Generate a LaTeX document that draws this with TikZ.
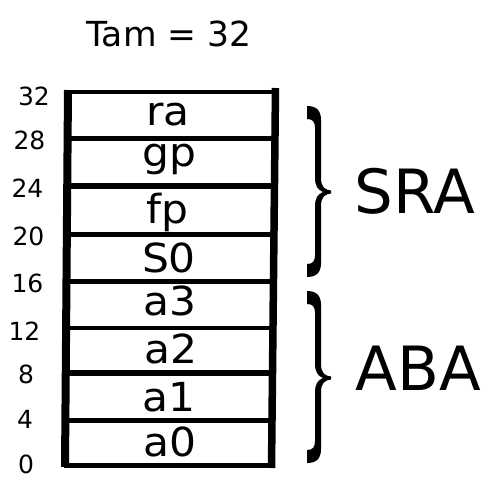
\documentclass[tikz,border=0pt]{standalone}
\usepackage{fontspec}
\setmainfont{DejaVu Sans}
\newcommand\mybrace[3]{%
  \fill (307,#1) .. controls (316,#1) and (321,#1+4) .. (321,#1+14)
   -- (321,#2-14) .. controls (321,#2-5) and (325,#2-2) .. (331,#2-1.5)
   -- (331,#2+1.5) .. controls (325,#2+2) and (321,#2+5) .. (321,#2+14)
   -- (321,#3-14) .. controls (321,#3-4) and (316,#3) .. (307,#3)
   -- (307,#3-13) .. controls (313,#3-13) and (315,#3-16) .. (315,#3-22)
   -- (315,#2+14) .. controls (315,#2+6) and (318,#2+2) .. (323,#2)
   .. controls (318,#2-2) and (315,#2-6) .. (315,#2-14)
   -- (315,#1+22) .. controls (315,#1+16) and (313,#1+13) .. (307,#1+13) -- cycle;}
\begin{document}
\begin{tikzpicture}[x=1pt,y=-1pt,
  cell/.style={anchor=base,inner sep=0pt,xscale=1.06,font=\fontsize{40}{40}\selectfont},
  addr/.style={anchor=base,inner sep=0pt,font=\fontsize{25}{25}\selectfont},
  big/.style={anchor=base,inner sep=0pt,font=\fontsize{61}{61}\selectfont},
  ttl/.style={anchor=base,inner sep=0pt,font=\fontsize{34.5}{34.5}\selectfont}]
\useasboundingbox[fill=white] (0,0) rectangle (488,488);
% title
\node[ttl] (title) at (169,46) {Tam = 32};
% horizontal lines
\draw[line width=4pt] (66,92) -- (274,92);
\draw[line width=5pt] (66,138.5) -- (274,138.5);
\draw[line width=5.5pt] (66,186) -- (273,186);
\draw[line width=5pt] (66,234.5) -- (273,234.5);
\draw[line width=4.5pt] (66,281.5) -- (273,281.5);
\draw[line width=4pt] (66,328) -- (273,328);
\draw[line width=5.5pt] (66,373) -- (272,373);
\draw[line width=5pt] (66,420.5) -- (272,420.5);
\draw[line width=5pt] (64,465.5) -- (272,465.5);
% verticals
\draw[line width=8pt] (68,90) -- (65,467);
\draw[line width=7.5pt] (275.5,88) -- (271.5,468);
% cell labels
\node[cell] (ra) at (168,125) {ra};
\node[cell] (gp) at (169,166) {gp};
\node[cell] (fp) at (167,223) {fp};
\node[cell] (s0) at (169,272) {S0};
\node[cell] (a3) at (170,315) {a3};
\node[cell] (a2) at (171,363) {a2};
\node[cell] (a1) at (169,411.5) {a1};
\node[cell] (a0) at (170,456.5) {a0};
% addresses
\node[addr] (n32) at (34,105.5) {32};
\node[addr] (n28) at (29.5,149) {28};
\node[addr] (n24) at (27.5,197) {24};
\node[addr] (n20) at (28.5,245) {20};
\node[addr] (n16) at (27.5,292) {16};
\node[addr] (n12) at (24.5,340) {12};
\node[addr] (n8) at (26,383) {8};
\node[addr] (n4) at (25,428) {4};
\node[addr] (n0) at (26,473) {0};
% braces
\mybrace{106}{192}{277}
\mybrace{291}{378}{463}
\node[big] (sra) at (415,213) {SRA};
\node[big] (aba) at (418.5,390) {ABA};
\end{tikzpicture}
\end{document}
